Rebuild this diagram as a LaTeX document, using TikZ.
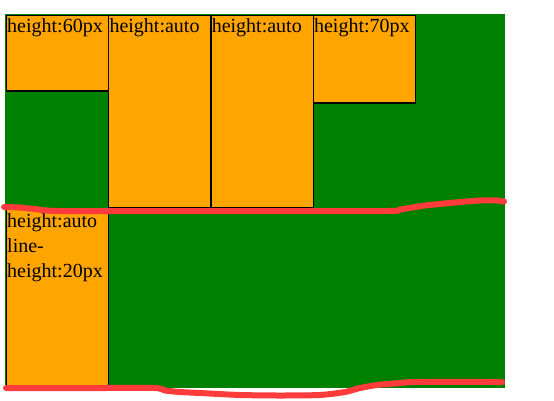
\documentclass[tikz,border=0pt]{standalone}
\usepackage{fontspec}
\setmainfont{Liberation Serif}
\usetikzlibrary{calc}
\definecolor{boxorange}{HTML}{FFA500}
\definecolor{bggreen}{HTML}{008000}
\definecolor{penred}{HTML}{FF3B3B}

\begin{document}
\begin{tikzpicture}[x=1pt, y=-1pt,
    box/.style={draw=black, line width=1.3pt, fill=boxorange, inner sep=0pt,
        anchor=north west, minimum width=102.3pt},
    lbl/.style={font=\fontsize{20}{25}\selectfont, inner sep=0pt, anchor=base west},
    pen/.style={penred, line width=6pt, line cap=round, line join=round}]
    \useasboundingbox (0,0) rectangle (554,400);

    % 绿色容器
    \fill[bggreen] (5,14) rectangle (505,388);

    % 第一行的四个盒子
    \node[box, minimum height=75.8pt]  (h60)   at (5.6,14.6)   {};
    \node[box, minimum height=192.8pt] (auto1) at (107.9,14.6) {};
    \node[box, minimum height=192.8pt] (auto2) at (210.2,14.6) {};
    \node[box, minimum height=87.8pt]  (h70)   at (312.5,14.6) {};
    % 第二行的盒子
    \node[box, minimum height=176pt]   (lh20)  at (5.6,208.6)  {};

    % 文字
    \node[lbl] at ($(h60.north west)+(1.4,18)$)   {height:60px};
    \node[lbl] at ($(auto1.north west)+(1.4,18)$) {height:auto};
    \node[lbl] at ($(auto2.north west)+(1.4,18)$) {height:auto};
    \node[lbl] at ($(h70.north west)+(1.4,18)$)   {height:70px};
    \node[lbl, anchor=north west, align=left] at ($(lh20.north west)+(1.4,5.2)$)
        {height:auto\\line-\\height:20px};

    % 红色手绘线
    \draw[pen] plot[smooth, tension=0.4] coordinates {(4,207) (20,207.5) (35,209)
        (60,211) (200,211) (385,211) (400,209.5) (425,205.5) (455,202.5) (480,200.5)
        (495,200.3) (504,201.5)};
    \draw[pen] plot[smooth, tension=0.4] coordinates {(6,388) (100,388) (155,388)
        (165,390.5) (180,392) (200,393) (240,395) (280,395.5) (320,395) (345,392)
        (360,388) (377,385) (400,383) (415,382) (502,382)};
\end{tikzpicture}
\end{document}
